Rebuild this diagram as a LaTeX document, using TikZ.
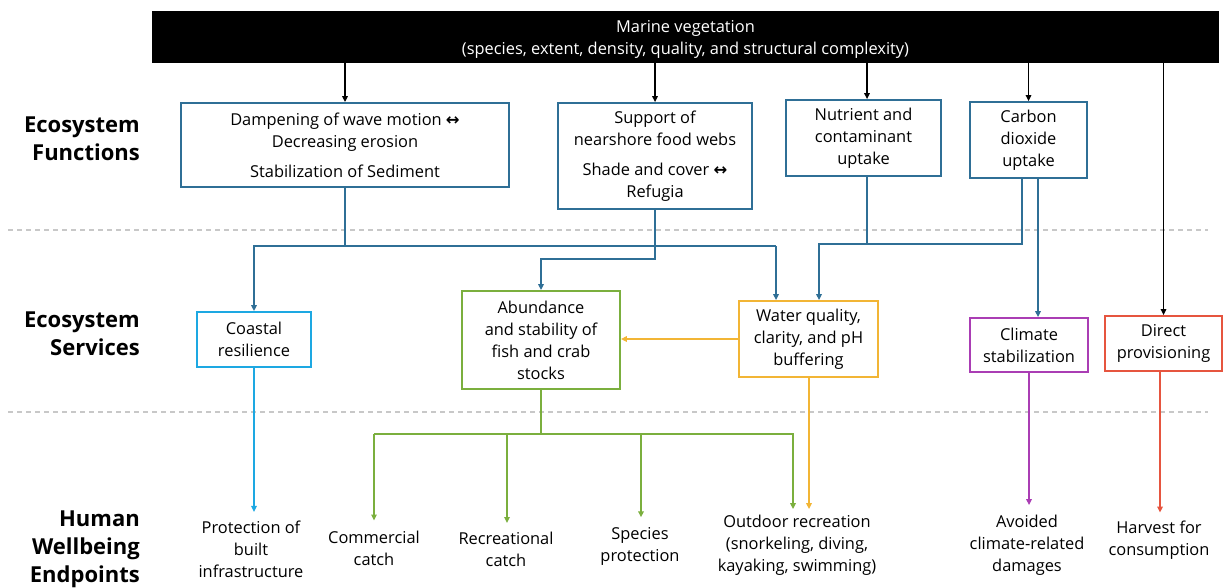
\documentclass[tikz,border=0pt]{standalone}
\usepackage{fontspec}
\setmainfont{Open Sans}
\newfontfamily\symb{DejaVu Sans}
\usetikzlibrary{arrows.meta}
\definecolor{fnblue}{HTML}{2F6F96}
\definecolor{cyanc}{HTML}{1DA8E2}
\definecolor{greenc}{HTML}{7BAF3E}
\definecolor{orangec}{HTML}{F2B535}
\definecolor{purplec}{HTML}{AA3DB4}
\definecolor{redc}{HTML}{E6553F}
\definecolor{dashc}{HTML}{C8C8C8}
\begin{document}
\begin{tikzpicture}[x=1pt,y=-1pt,
  txt/.style={font=\fontsize{16.4}{22}\selectfont, align=center, inner sep=0pt},
  box/.style={txt, draw, line width=1.8pt, rectangle},
  fnbox/.style={box, draw=fnblue},
  lbl/.style={font=\fontsize{22}{28}\selectfont\bfseries, align=right, anchor=east, inner sep=0pt},
  tip/.style={-{Triangle[length=6pt,width=5.5pt]}},
  blk/.style={line width=1.4pt, black},
  fn/.style={line width=1.8pt, fnblue},
  cy/.style={line width=1.8pt, cyanc},
  gr/.style={line width=1.8pt, greenc},
  og/.style={line width=1.8pt, orangec},
  pu/.style={line width=1.8pt, purplec},
  rd/.style={line width=1.8pt, redc},
  sep/.style={dashc, line width=1.2pt, dash pattern=on 5pt off 4pt}
]
\useasboundingbox (0,0) rectangle (1225,587);

% layer separators
\draw[sep] (8,230) -- (1208,230);
\draw[sep] (8,412) -- (1208,412);

% row labels
\node[lbl] (lf) at (140,139) {Ecosystem\\Functions};
\node[lbl] (ls) at (140,333.5) {Ecosystem\\Services};
\node[lbl] (lh) at (140,549) {Human\\Wellbeing\\Endpoints};

% source
\node[fill=black, minimum width=1067, minimum height=52, inner sep=0pt] (mv) at (685.5,37) {};
\node[txt, text=white] (mvt) at (685.5,39)
  {Marine vegetation\\(species, extent, density, quality, and structural complexity)};

% ecosystem functions
\node[fnbox, minimum width=328, minimum height=84] (f1) at (345,145)
  {Dampening of wave motion {\symb\bfseries ↔}\\Decreasing erosion\\[8pt]Stabilization of Sediment};
\node[fnbox, minimum width=194, minimum height=106] (f2) at (655,156)
  {Support of\\nearshore food webs\\[8pt]Shade and cover {\symb\bfseries ↔}\\Refugia};
\node[fnbox, minimum width=155, minimum height=76] (f3) at (863.5,138)
  {Nutrient and\\contaminant\\uptake};
\node[fnbox, minimum width=117, minimum height=76] (f4) at (1028.5,140)
  {Carbon\\dioxide\\uptake};

% ecosystem services
\node[box, draw=cyanc, minimum width=114, minimum height=55] (s1) at (254,339.5)
  {Coastal\\resilience};
\node[box, draw=greenc, minimum width=158, minimum height=98] (s2) at (541,340)
  {Abundance\\and stability of\\fish and crab\\stocks};
\node[box, draw=orangec, minimum width=139, minimum height=76] (s3) at (808.5,339)
  {Water quality,\\clarity, and pH\\buffering};
\node[box, draw=purplec, minimum width=118, minimum height=54] (s4) at (1029,345)
  {Climate\\stabilization};
\node[box, draw=redc, minimum width=117, minimum height=55] (s5) at (1163.5,343.5)
  {Direct\\provisioning};

% wellbeing endpoints
\node[txt] (e1) at (251,549) {Protection of\\built\\infrastructure};
\node[txt] (e2) at (374,548.5) {Commercial\\catch};
\node[txt] (e3) at (506,549) {Recreational\\catch};
\node[txt] (e4) at (640,546) {Species\\protection};
\node[txt] (e5) at (797,545) {Outdoor recreation\\(snorkeling, diving,\\kayaking, swimming)};
\node[txt] (e6) at (1027,545) {Avoided\\climate-related\\damages};
\node[txt] (e7) at (1159,540.5) {Harvest for\\consumption};

% source to functions
\draw[blk, tip] (mv.south -| f1.north) -- (f1.north);
\draw[blk, tip] (mv.south -| f2.north) -- (f2.north);
\draw[blk, tip] ([xshift=3.5pt]f3.north |- mv.south) -- ([xshift=3.5pt]f3.north);
\draw[blk, tip] (mv.south -| f4.north) -- (f4.north);
\draw[blk, tip] (mv.south -| s5.north) -- (s5.north);

% junction rows and entry points
\coordinate (busA) at (0,246);
\coordinate (busB) at (0,259);
\coordinate (busC) at (0,244);
\coordinate (busG) at (0,434);
\coordinate (s3a) at ([xshift=-32.5pt]s3.north);
\coordinate (s3b) at ([xshift=10.5pt]s3.north);
\coordinate (f3o) at ([xshift=3.5pt]f3.south);
\coordinate (f4a) at ([xshift=-6.5pt]f4.south);
\coordinate (f4b) at ([xshift=9.5pt]f4.south);

% functions to services
\draw[fn] (f1.south) -- (f1.south |- busA);
\draw[fn, tip] (busA -| s3a) -- (busA -| s1.north) -- (s1.north);
\draw[fn, tip] (busA -| s3a) -- (s3a);
\draw[fn, tip] (f2.south) -- (f2.south |- busB) -- (busB -| s2.north) -- (s2.north);
\draw[fn] (f3o) -- (f3o |- busC);
\draw[fn, tip] (f4a) -- (f4a |- busC) -- (busC -| s3b) -- (s3b);
\draw[fn, tip] (f4b) -- (f4b |- s4.north);

% service to service
\draw[og, tip] (s3.west) -- (s3.west -| s2.east);

% services to endpoints
\draw[cy, tip] (s1.south) -- ([yshift=8.5pt]s1.south |- e1.north);
\draw[gr] (s2.south) -- (s2.south |- busG);
\draw[gr, tip] (busG -| e2.north) -- ([yshift=10.5pt]e2.north);
\draw[gr, tip] (busG -| e2.north) -- ([xshift=-4pt]busG -| e5.north) -- ([xshift=-4pt,yshift=5.5pt]e5.north);
\draw[gr, tip] ([xshift=1pt]busG -| e3.north) -- ([xshift=1pt,yshift=8.5pt]e3.north);
\draw[gr, tip] ([xshift=1pt]busG -| e4.north) -- ([xshift=1pt,yshift=9.5pt]e4.north);
\draw[og, tip] ([xshift=0.5pt]s3.south) -- ([xshift=0.5pt,yshift=5.5pt]s3.south |- e5.north);
\draw[pu, tip] (s4.south) -- ([yshift=9.5pt]s4.south |- e6.north);
\draw[rd, tip] ([xshift=-3.5pt]s5.south) -- ([xshift=-3.5pt,yshift=8.5pt]s5.south |- e7.north);
\end{tikzpicture}
\end{document}
